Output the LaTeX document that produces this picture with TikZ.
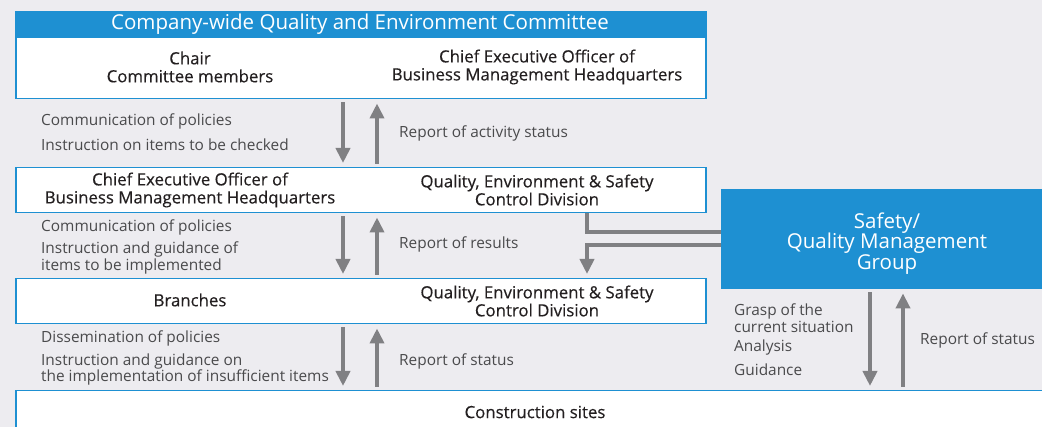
\documentclass[tikz,border=0pt]{standalone}
\usepackage{fontspec}
\setmainfont{Open Sans}
\newfontfamily\medfont{Open Sans}[FakeBold=0.35]
\usetikzlibrary{arrows.meta,positioning,calc}
\definecolor{qblue}{HTML}{1E90D2}
\definecolor{qgray}{HTML}{808083}
\definecolor{qbg}{HTML}{EDECF0}
\definecolor{qtext}{HTML}{231F20}
\definecolor{qlbl}{HTML}{4A4A4C}

\begin{document}
\begin{tikzpicture}[x=1pt, y=-1pt,
    box/.style={draw=qblue, line width=1.5pt, fill=white, anchor=north west, inner sep=0pt},
    txt/.style={font=\medfont\fontsize{16.8}{18}\selectfont, text=qtext, align=center},
    lbl/.style={font=\fontsize{15.4}{16.8}\selectfont, text=qlbl, anchor=west, align=left, inner sep=0pt},
    arr/.style={-{Triangle[length=15pt, width=14pt]}, line width=4pt, draw=qgray, shorten <=3pt, shorten >=4pt},
    link/.style={line width=3.5pt, draw=qgray}
]
\useasboundingbox (0,0) rectangle (1042,427);
\clip (0,0) rectangle (1042,427);
\fill[qbg] (0,0) rectangle (1042,427);

% boxes
\node[box, minimum width=690pt, minimum height=87pt] (cmt) at (15,11) {};
\fill[qblue] (cmt.north west) rectangle ($(cmt.north east)+(0,27)$);
\node[box, minimum width=690pt, minimum height=45pt] (ceo) at (15,167) {};
\node[box, minimum width=690pt, minimum height=45pt] (brn) at (15,278) {};
\node[box, minimum width=1040pt, minimum height=60pt] (site) at (15,390) {};
\node[fill=qblue, anchor=north west, minimum width=330pt, minimum height=100pt] (grp) at (721,189) {};

% box texts
\node[txt, text=white, font=\fontsize{20.5}{22}\selectfont] (ttl) at (360,24) {Company-wide Quality and Environment Committee};
\node[txt] (chr) at (190,67) {Chair\\Committee members};
\node[txt] (ceoa) at (537,67) {Chief Executive Officer of\\Business Management Headquarters};
\node[txt] (ceob) at (190,190) {Chief Executive Officer of\\Business Management Headquarters};
\node[txt] (qesa) at (537,190) {Quality, Environment \& Safety\\Control Division};
\node[txt] (brna) at (190,300) {Branches};
\node[txt] (qesb) at (537,301) {Quality, Environment \& Safety\\Control Division};
\node[txt] (sitea) at (535,412) {Construction sites};
\node[txt, text=white, font=\fontsize{20.5}{20.5}\selectfont] (grpa) at (887,243.5) {Safety/\\Quality Management\\Group};

% labels
\node[lbl] (la1) at (41,121) {Communication of policies};
\node[lbl] (la2) at (41,145) {Instruction on items to be checked};
\node[lbl] (lr1) at (399,133) {Report of activity status};
\node[lbl] (lb1) at (41,227) {Communication of policies};
\node[lbl] (lb2) at (41,258) {Instruction and guidance of\\items to be implemented};
\node[lbl] (lr2) at (399,244) {Report of results};
\node[lbl] (lc1) at (41,338) {Dissemination of policies};
\node[lbl] (lc2) at (41,369.5) {Instruction and guidance on\\the implementation of insufficient items};
\node[lbl] (lr3) at (399,361) {Report of status};
\node[lbl] (ld1) at (734,318) {Grasp of the\\current situation};
\node[lbl] (ld2) at (734,348) {Analysis};
\node[lbl] (ld3) at (734,370) {Guidance};
\node[lbl] (lr4) at (920,340) {Report of status};

% connectors
\coordinate (dn) at (343,0);
\coordinate (up) at (377,0);
\coordinate (gdn) at (870,0);
\coordinate (gup) at (903,0);
\coordinate (cx) at (587,0);
\coordinate (ya) at (0,232);
\coordinate (yb) at (0,245);

\draw[arr] (dn |- cmt.south) -- (dn |- ceo.north);
\draw[arr] (up |- ceo.north) -- (up |- cmt.south);
\draw[arr] (dn |- ceo.south) -- (dn |- brn.north);
\draw[arr] (up |- brn.north) -- (up |- ceo.south);
\draw[arr] (dn |- brn.south) -- (dn |- site.north);
\draw[arr] (up |- site.north) -- (up |- brn.south);
\draw[arr] (gdn |- grp.south) -- (gdn |- site.north);
\draw[arr] (gup |- site.north) -- (gup |- grp.south);

\draw[link] (cx |- ceo.south) |- (grp.west |- ya);
\draw[arr, shorten <=0pt] (grp.west |- yb) -| (cx |- brn.north);
\end{tikzpicture}
\end{document}
